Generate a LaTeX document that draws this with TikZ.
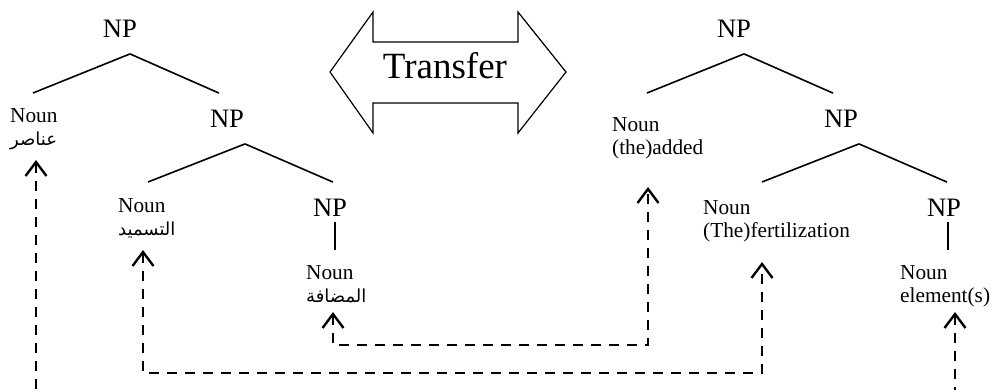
\documentclass[tikz,border=0pt]{standalone}
\usepackage{fontspec}
\setmainfont{Liberation Serif}
\newfontfamily\arabicfont[Script=Arabic]{DejaVu Sans}
\TeXXeTstate=1
\usetikzlibrary{arrows.meta}
\newcommand{\artext}[1]{{\arabicfont\fontsize{18}{24}\selectfont\beginR #1\endR}}

\begin{document}
\begin{tikzpicture}[x=1pt,y=-1pt]
    \tikzstyle{every node}=[inner sep=0pt]
    \tikzstyle{cat}=[font=\fontsize{26.6}{30}\selectfont]
    \tikzstyle{leaf}=[anchor=north west,align=left,font=\fontsize{21.3}{23}\selectfont]
    \tikzstyle{branch}=[draw=black,line width=1.6pt]
    \tikzstyle{link}=[draw=black,line width=1.9pt,dash pattern=on 10pt off 8pt,
        >={Straight Barb[length=14pt,width=21pt,line width=2.4pt]}]

    \useasboundingbox (0,0) rectangle (991,389);

    % transfer arrow
    \draw[line width=1.2pt] (330,72) -- (373,12) -- (373,42) -- (518,42) -- (518,12) -- (566,72)
        -- (518,133) -- (518,103) -- (373,103) -- (373,133) -- cycle;
    \node[font=\fontsize{37}{40}\selectfont] (transfer) at (445,66) {Transfer};

    % arabic tree
    \node[cat] (npA) at (120,29) {NP};
    \node[cat] (npB) at (227,119) {NP};
    \node[cat] (npC) at (330,208) {NP};
    \node[leaf] (leafA) at (10,108) {Noun\\\artext{عناصر}};
    \node[leaf] (leafB) at (118,198) {Noun\\\artext{التسميد}};
    \node[leaf] (leafC) at (306,265) {Noun\\\artext{المضافة}};

    \draw[branch] ([xshift=10pt,yshift=-16pt]npA.south) -- ([xshift=23pt,yshift=15pt]leafA.north west);
    \draw[branch] ([xshift=10pt,yshift=-16pt]npA.south) -- ([xshift=-8pt,yshift=17pt]npB.north);
    \draw[branch] ([xshift=18pt,yshift=-16pt]npB.south) -- ([xshift=30pt,yshift=16pt]leafB.north west);
    \draw[branch] ([xshift=18pt,yshift=-16pt]npB.south) -- ([xshift=3pt,yshift=17pt]npC.north);
    \draw[branch] ([xshift=5pt,yshift=-5pt]npC.south) -- ([xshift=29pt,yshift=15pt]leafC.north west);

    % english tree
    \node[cat] (npD) at (734,29) {NP};
    \node[cat] (npE) at (841,119) {NP};
    \node[cat] (npF) at (944,208) {NP};
    \node[leaf] (leafD) at (612,117) {Noun\\(the)added};
    \node[leaf] (leafE) at (703,200) {Noun\\(The)fertilization};
    \node[leaf] (leafF) at (900,265) {Noun\\element(s)};

    \draw[branch] ([xshift=10pt,yshift=-16pt]npD.south) -- ([xshift=35pt,yshift=24pt]leafD.north west);
    \draw[branch] ([xshift=10pt,yshift=-16pt]npD.south) -- ([xshift=-8pt,yshift=17pt]npE.north);
    \draw[branch] ([xshift=18pt,yshift=-16pt]npE.south) -- ([xshift=59pt,yshift=18pt]leafE.north west);
    \draw[branch] ([xshift=18pt,yshift=-16pt]npE.south) -- ([xshift=3pt,yshift=17pt]npF.north);
    \draw[branch] ([xshift=4pt,yshift=-5pt]npF.south) -- ([xshift=48pt,yshift=15pt]leafF.north west);

    % links between the two trees
    \draw[link,<-] ([xshift=26pt,yshift=-52pt]leafA.north west) -- ++(0,235);
    \draw[link,<->] ([xshift=25pt,yshift=-52pt]leafB.north west) -- ++(0,123)
        -| ([xshift=59pt,yshift=-62pt]leafE.north west);
    \draw[link,<->] ([xshift=27pt,yshift=-47pt]leafC.north west) -- ++(0,33)
        -| ([xshift=36pt,yshift=-70pt]leafD.north west);
    \draw[link,<-] ([xshift=55pt,yshift=-47pt]leafF.north west) -- ++(0,80);
\end{tikzpicture}
\end{document}
